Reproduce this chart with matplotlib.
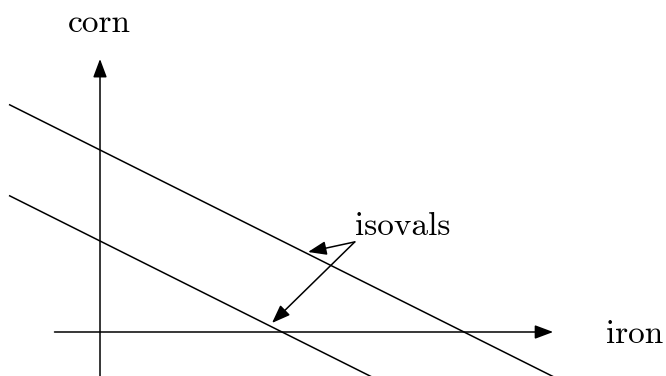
import matplotlib
matplotlib.use("Agg")
import matplotlib.pyplot as plt
import numpy as np

# Isoval lines: corn = intercept + slope * iron
isoval_intercepts = [2.0, 1.0]
isoval_slope = -0.5
isoval_iron_range = [-1.0, 6.5]

# Axis extents
iron_axis = [-0.5, 4.98]
corn_axis = [-0.6, 3.0]

# Annotation: label origin and arrow targets
label_origin = (2.80, 0.99)
arrow_targets = [(2.286, 0.879), (1.89, 0.099)]

labels = {"corn": (-0.01, 3.297), "isovals": (2.80, 1.066), "iron": (5.56, -0.121)}

fig = plt.figure(figsize=(6.66, 3.76), dpi=100)
ax = fig.add_axes([0, 0, 1, 1])
ax.set_xlim(-1.099, 6.220)
ax.set_ylim(-0.4835, 3.648)
ax.axis("off")

lw = 1.1
font = dict(family="cmr10", size=24, color="black")

# isovals
xs = np.array(isoval_iron_range)
for c in isoval_intercepts:
    ax.plot(xs, c + isoval_slope * xs, color="black", lw=lw, solid_capstyle="butt")

# axes with arrows
arrow_kw = dict(arrowstyle="-|>,head_length=0.8,head_width=0.3", color="black", lw=lw,
                shrinkA=0, shrinkB=0, mutation_scale=14)
ax.annotate("", xy=(iron_axis[1], 0), xytext=(iron_axis[0], 0), arrowprops=arrow_kw)
ax.annotate("", xy=(0, corn_axis[1]), xytext=(0, corn_axis[0]), arrowprops=arrow_kw)

# isoval arrows
for tx, ty in arrow_targets:
    ax.annotate("", xy=(tx, ty), xytext=label_origin, arrowprops=arrow_kw)

ax.text(labels["corn"][0], labels["corn"][1], "corn", ha="center", va="baseline", **font)
ax.text(labels["isovals"][0], labels["isovals"][1], "isovals", ha="left", va="baseline", **font)
ax.text(labels["iron"][0], labels["iron"][1], "iron", ha="left", va="baseline", **font)

fig.savefig("out.png", dpi=100)
